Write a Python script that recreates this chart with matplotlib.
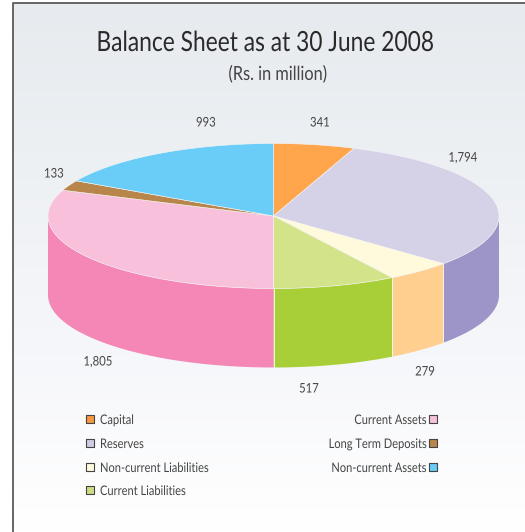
import matplotlib
matplotlib.use("Agg")
import matplotlib.pyplot as plt
import matplotlib.patheffects as pe
from matplotlib.transforms import Affine2D
import numpy as np

plt.rcParams['font.family'] = ['Lato', 'DejaVu Sans']

names = ["Capital", "Reserves", "Non-current Liabilities", "Current Liabilities",
         "Current Assets", "Long Term Deposits", "Non-current Assets"]
values = [341, 1794, 279, 517, 1805, 133, 993]

top_colors = ["#FFA64D", "#D5D2E8", "#FFFADB", "#D3E38A", "#F8C0DA", "#B8864B", "#69CDF7"]
side_colors = ["#F79A3E", "#9D94C8", "#FFCF8F", "#A8CF38", "#F587B7", "#A87838", "#4FBDEB"]
key_colors = ["#F7973F", "#CFCCE4", "#FFFADB", "#CBDD80", "#F8C0DA", "#B8864B", "#69CDF7"]

# pie geometry, in pixels
cx, cy = 273.5, 216
rx, ry = 225.5, 72.5
depth = 79


class Narrow(pe.AbstractPathEffect):
    # squeeze text sideways around its anchor, no condensed font is available
    def __init__(self, x0, sx):
        super().__init__()
        self.x0 = x0
        self.sx = sx

    def draw_path(self, renderer, gc, tpath, affine, rgbFace=None):
        squeeze = Affine2D().translate(-self.x0, 0).scale(self.sx, 1).translate(self.x0, 0)
        renderer.draw_path(gc, tpath, affine + squeeze, rgbFace)


def label(x, y, s, size, color, ha="center", sx=0.84):
    t = ax.text(x, y, s, ha=ha, va="center", fontsize=size, color=color, zorder=5)
    t.set_path_effects([Narrow(x, sx)])


fig = plt.figure(figsize=(5.25, 5.32), dpi=100)
ax = fig.add_axes([0, 0, 1, 1])
ax.set_xlim(0, 525)
ax.set_ylim(532, 0)
ax.axis("off")

# panel background, fades to white towards the bottom
grad = np.linspace(0, 1, 256).reshape(-1, 1)
cmap = matplotlib.colors.LinearSegmentedColormap.from_list(
    "panel", ["#E7EAEE", "#EEF1F4", "#F6F7FA", "#FFFFFF"])
ax.imshow(grad, extent=[13, 525, 532, 3], cmap=cmap, aspect="auto", zorder=0)
ax.set_xlim(0, 525)
ax.set_ylim(532, 0)
ax.plot([12.5, 12.5, 525], [532, 2.5, 2.5], color="#5a5a5a", lw=1.3, zorder=1)


def ring(a, b):
    t = np.radians(np.linspace(a, b, 120))
    return cx + rx * np.sin(t), cy - ry * np.cos(t)


edges = np.concatenate([[0], np.cumsum(values)]) / sum(values) * 360

# outer wall, only the front half of the pie shows
for i in range(len(values)):
    a = max(edges[i], 90)
    b = min(edges[i + 1], 270)
    if a >= b:
        continue
    x, y = ring(a, b)
    ax.fill(np.r_[x, x[::-1]], np.r_[y, y[::-1] + depth], color=side_colors[i], lw=0, zorder=2)
    for e in (a, b):
        if 90 < e < 270:
            xe, ye = ring(e, e)
            ax.plot([xe[0], xe[0]], [ye[0], ye[0] + depth], color="#F4F2E4", lw=0.6, zorder=3)

# top face
for i in range(len(values)):
    x, y = ring(edges[i], edges[i + 1])
    ax.fill(np.r_[cx, x], np.r_[cy, y], color=top_colors[i], ec="#F5F5F5", lw=0.4, zorder=4)

# value labels
label_x = [320, 463, 425, 309, 98, 54, 206]
label_y = [122, 157, 371, 388, 361, 173, 122]
for v, lx, ly in zip(values, label_x, label_y):
    label(lx, ly + 0.5, f"{v:,}", 9.5, "#444444", sx=0.86)

label(265.5, 43, "Balance Sheet as at 30 June 2008", 20, "#2a2a2a", sx=0.82)
label(278, 74, "(Rs. in million)", 14, "#444444")

# legend, two columns
rows = [419, 443, 467, 490]
for i in range(4):
    ax.scatter(90, rows[i], marker="s", s=28, color=key_colors[i], edgecolor="#444444", lw=0.8, zorder=5)
    label(100, rows[i] + 1, names[i], 9.5, "#444444", ha="left")
for i in range(4, 7):
    r = rows[i - 4]
    ax.scatter(433, r, marker="s", s=28, color=key_colors[i], edgecolor="#444444", lw=0.8, zorder=5)
    label(427, r + 1, names[i], 9.5, "#444444", ha="right")

fig.savefig("out.png", dpi=100)
